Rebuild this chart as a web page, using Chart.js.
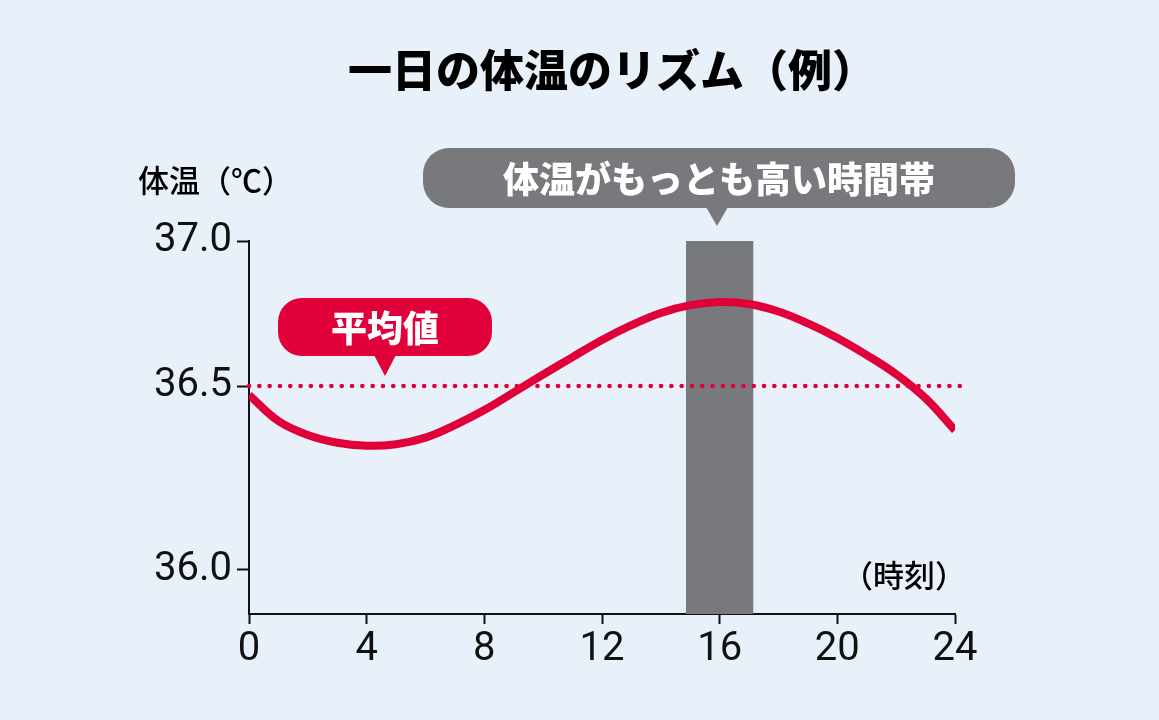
<!DOCTYPE html>
<html><head><meta charset="utf-8">
<script src="https://cdn.jsdelivr.net/npm/chart.js@4"></script>
<style>html,body{margin:0;background:#e8f0f9;}canvas{display:block}</style>
</head><body>
<div style="width:1159px;height:720px"><canvas id="c"></canvas></div>
<script>
// data
const hours = [0,1,2,3,4,5,6,7,8,9,10,11,12,13,14,15,16,17,18,19,20,21,22,23,24];
const temps = [36.476,36.405,36.367,36.346,36.338,36.342,36.36,36.394,36.435,36.483,36.54,36.6,36.659,36.71,36.752,36.779,36.79,36.783,36.757,36.716,36.666,36.607,36.541,36.467,36.38];
const average = 36.5;
const peakBand = [14.85, 17.15];
const peakTop = 37.0;
const yTicks = [36.0, 36.5, 37.0];
const xTicks = [0,4,8,12,16,20,24];

// the original art uses uneven spacing on the y axis
const anchorVals = [35.88, 36.0, 36.5, 37.0];
const anchorFrac = [0, 0.118, 0.611, 1];
class PieceScale extends Chart.LinearScale {
  getPixelForValue(v) {
    let i = 0;
    while (i < anchorVals.length - 2 && v > anchorVals[i + 1]) i++;
    const t = (v - anchorVals[i]) / (anchorVals[i + 1] - anchorVals[i]);
    const f = anchorFrac[i] + t * (anchorFrac[i + 1] - anchorFrac[i]);
    return this.bottom - f * (this.bottom - this.top);
  }
  getValueForPixel(p) {
    const f = (this.bottom - p) / (this.bottom - this.top);
    let i = 0;
    while (i < anchorFrac.length - 2 && f > anchorFrac[i + 1]) i++;
    const t = (f - anchorFrac[i]) / (anchorFrac[i + 1] - anchorFrac[i]);
    return anchorVals[i] + t * (anchorVals[i + 1] - anchorVals[i]);
  }
}
PieceScale.id = "piece";
PieceScale.defaults = Chart.LinearScale.defaults;
Chart.register(PieceScale);

const JP = '"Noto Sans CJK JP", sans-serif';
const NUM = '"Liberation Sans Narrow", "Roboto", sans-serif';

function pill(ctx, x, y, w, h, r, color, tipX, tipY, text) {
  ctx.fillStyle = color;
  ctx.beginPath();
  ctx.roundRect(x, y, w, h, r);
  ctx.fill();
  ctx.beginPath();
  ctx.moveTo(tipX - 11, y + h - 1);
  ctx.lineTo(tipX + 11, y + h - 1);
  ctx.lineTo(tipX, tipY);
  ctx.closePath();
  ctx.fill();
  ctx.fillStyle = "#fff";
  ctx.textAlign = "center";
  ctx.textBaseline = "middle";
  ctx.fillText(text, x + w / 2, y + h / 2 + 1);
}

const labels = {
  id: "labels",
  afterDraw(chart) {
    const ctx = chart.ctx;
    ctx.save();
    ctx.fillStyle = "#000";
    ctx.textAlign = "center";
    ctx.textBaseline = "middle";
    ctx.font = "900 44px " + JP;
    ctx.fillText("一日の体温のリズム（例）", 612, 70);
    ctx.font = "500 31px " + JP;
    ctx.textAlign = "left";
    ctx.fillText("体温（℃）", 138, 180);
    ctx.fillText("（時刻）", 842, 575);
    ctx.font = "900 36px " + JP;
    pill(ctx, 423, 148, 592, 60, 26, "#77797c", 717, 226, "体温がもっとも高い時間帯");
    pill(ctx, 278, 298, 214, 58, 24, "#e0003a", 385, 376, "平均値");
    ctx.restore();
  }
};

new Chart(document.getElementById("c"), {
  type: "line",
  data: {
    datasets: [
      {
        data: hours.map((h, i) => ({ x: h, y: temps[i] })),
        borderColor: "#e0003a", borderWidth: 8, pointRadius: 0,
        tension: 0.4, borderCapStyle: "butt", order: 1
      },
      {
        data: [{ x: 0, y: average }, { x: 24.2, y: average }],
        borderColor: "#e0003a", borderWidth: 4.5, borderDash: [0.1, 10.2],
        borderCapStyle: "round", pointRadius: 0, order: 2, clip: false
      },
      {
        data: peakBand.map(x => ({ x, y: peakTop })),
        borderWidth: 0, pointRadius: 0, fill: "start",
        backgroundColor: "#77797c", order: 3
      }
    ]
  },
  options: {
    responsive: true, maintainAspectRatio: false, animation: false,
    layout: { padding: { top: 241, right: 204, left: 0, bottom: 0 } },
    plugins: { legend: { display: false }, tooltip: { enabled: false } },
    scales: {
      x: {
        type: "linear", min: 0, max: 24,
        afterBuildTicks: s => { s.ticks = xTicks.map(v => ({ value: v })); },
        afterFit: s => { s.height = 106; },
        border: { color: "#111", width: 2 },
        grid: { drawOnChartArea: false, tickLength: 10, color: "#111", tickWidth: 2 },
        ticks: { color: "#111", font: { family: NUM, size: 40 }, padding: 2, maxRotation: 0 }
      },
      y: {
        type: "piece", min: 35.88, max: 37.0,
        afterBuildTicks: s => { s.ticks = yTicks.map(v => ({ value: v })); },
        afterFit: s => { s.width = 249; },
        border: { color: "#111", width: 2 },
        grid: { drawOnChartArea: false, tickLength: 12, color: "#111", tickWidth: 2 },
        ticks: { color: "#111", font: { family: NUM, size: 40 }, padding: 5, callback: v => v.toFixed(1) }
      }
    }
  },
  plugins: [labels]
});
</script>
</body></html>
